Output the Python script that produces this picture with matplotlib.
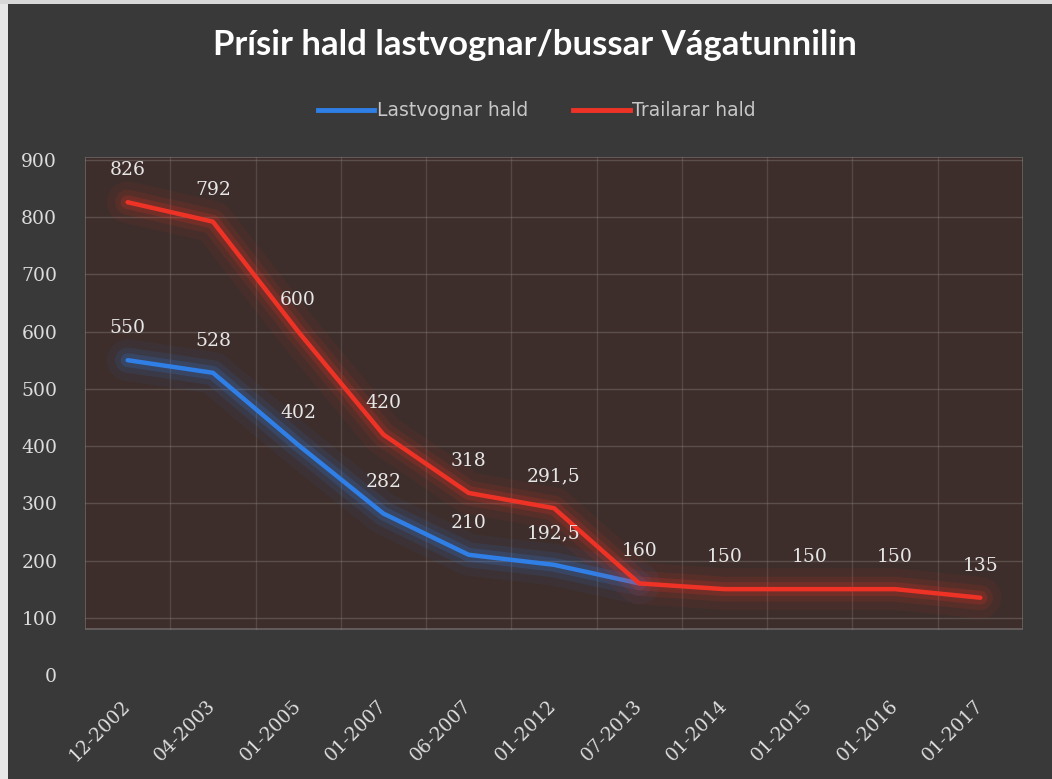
import matplotlib
matplotlib.use("Agg")
import matplotlib.pyplot as plt
import matplotlib.patheffects as pe
from matplotlib.lines import Line2D
from matplotlib.patches import Rectangle

categories = ["12-2002", "04-2003", "01-2005", "01-2007", "06-2007", "01-2012",
              "07-2013", "01-2014", "01-2015", "01-2016", "01-2017"]
lastvognar = [550, 528, 402, 282, 210, 192.5, 160]
trailarar = [826, 792, 600, 420, 318, 291.5, 160, 150, 150, 150, 135]
lastvognar_labels = ["550", "528", "402", "282", "210", "192,5", "160"]
trailarar_labels = ["826", "792", "600", "420", "318", "291,5", "160", "150", "150", "150", "135"]
yticks = [0, 100, 200, 300, 400, 500, 600, 700, 800, 900]

title = "Prísir hald lastvognar/bussar Vágatunnilin"
name_blue = "Lastvognar hald"
name_red = "Trailarar hald"

SERIF = ["DejaVu Serif"]

W, H = 1052, 779
fig = plt.figure(figsize=(W / 100, H / 100), dpi=100)
fig.patch.set_facecolor("#3a3939")

# scanned paper border
fig.patches.append(Rectangle((0, 0), 8 / W, 1, transform=fig.transFigure,
                             facecolor="#e8e8e8", edgecolor="none", zorder=10))
fig.patches.append(Rectangle((0, 1 - 4 / H), 1, 4 / H, transform=fig.transFigure,
                             facecolor="#d8d8d8", edgecolor="none", zorder=10))

ax_l, ax_r = 85 / W, 1023 / W
ax_b, ax_t = (H - 675) / H, (H - 157) / H
ax = fig.add_axes([ax_l, ax_b, ax_r - ax_l, ax_t - ax_b])
ax.set_facecolor("none")
for s in ax.spines.values():
    s.set_visible(False)

x = list(range(len(categories)))
ax.set_xlim(-0.5, len(categories) - 0.5)
ax.set_ylim(0, 905)

# plot area
ax.add_patch(Rectangle((-0.5, 80), len(categories), 825, facecolor="#3d2e2b",
                       edgecolor="#6a6463", linewidth=1.2, zorder=0))
for yv in yticks[1:]:
    ax.axhline(yv, color="#8a8280", alpha=0.4, linewidth=1.0, zorder=1)
for xv in [i + 0.5 for i in range(len(categories) - 1)]:
    ax.plot([xv, xv], [80, 905], color="#8a8280", alpha=0.3, linewidth=1.0, zorder=1)

blue = "#2f7fe6"
red = "#ee3326"

def glow(c):
    return [pe.Stroke(linewidth=30, foreground=c, alpha=0.06),
            pe.Stroke(linewidth=18, foreground=c, alpha=0.10),
            pe.Stroke(linewidth=10, foreground=c, alpha=0.18),
            pe.Normal()]

ax.plot(x[:len(lastvognar)], lastvognar, color=blue, linewidth=3.2,
        solid_capstyle="round", path_effects=glow(blue), zorder=3)
ax.plot(x, trailarar, color=red, linewidth=3.2,
        solid_capstyle="round", path_effects=glow(red), zorder=4)

lab_kw = dict(textcoords="offset points", ha="center", va="center",
              color="#e6e6e6", fontsize=13.5, family=SERIF, zorder=6)
for i, (v, t) in enumerate(zip(lastvognar, lastvognar_labels)):
    if v == trailarar[i]:
        continue
    ax.annotate(t, (x[i], v), xytext=(0, 23), **lab_kw)
for i, (v, t) in enumerate(zip(trailarar, trailarar_labels)):
    ax.annotate(t, (x[i], v), xytext=(0, 23), **lab_kw)

ax.set_yticks(yticks)
ax.set_yticklabels([str(v) for v in yticks])
ax.set_xticks(x)
ax.set_xticklabels(categories, rotation=45, ha="right", va="center", rotation_mode="anchor")
ax.tick_params(axis="both", length=0, colors="#dcdcdc", labelsize=13.5)
ax.tick_params(axis="y", pad=20)
ax.tick_params(axis="x", pad=20)
for lbl in ax.get_xticklabels() + ax.get_yticklabels():
    lbl.set_family(SERIF)

fig.text(535 / W, 1 - 45 / H, title, ha="center", va="center", color="white",
         fontsize=25, fontweight="bold", family=["Lato", "DejaVu Sans"])

handles = [Line2D([], [], color=blue, linewidth=3.5),
           Line2D([], [], color=red, linewidth=3.5)]
leg = fig.legend(handles, [name_blue, name_red], loc="center",
                 bbox_to_anchor=(537 / W, 1 - 111 / H), ncol=2, frameon=False,
                 handlelength=3.0, handletextpad=0.15, columnspacing=2.4,
                 prop={"family": ["Liberation Sans Narrow", "DejaVu Sans"], "size": 13.5})
for t in leg.get_texts():
    t.set_color("#c8c8c8")

fig.savefig("out.png", dpi=100, facecolor=fig.get_facecolor())
